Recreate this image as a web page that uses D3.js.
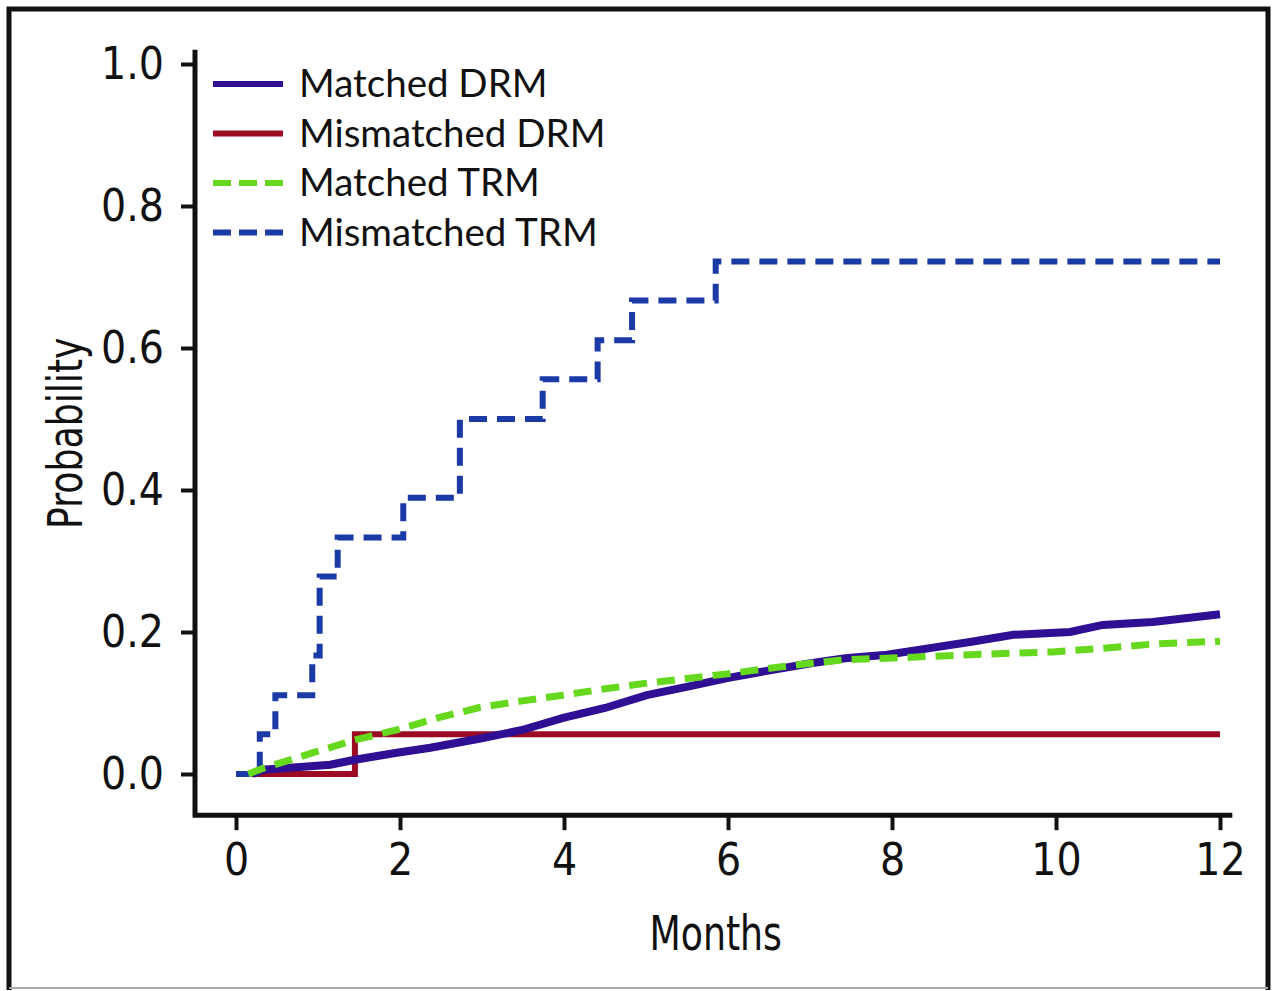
<!DOCTYPE html>
<html>
<head>
<meta charset="utf-8">
<script src="https://cdn.jsdelivr.net/npm/d3@7"></script>
<style>
  body { margin: 0; background: #fff; }
  svg { display: block; }
</style>
</head>
<body>
<div id="chart-container"></div>
<script>
const months = [0, 2, 4, 6, 8, 10, 12];
const probTicks = [0, 0.2, 0.4, 0.6, 0.8, 1.0];

const seriesNames = ['Matched DRM', 'Mismatched DRM', 'Matched TRM', 'Mismatched TRM'];

const matchedDrmT = [0.2, 0.33, 0.7, 1.15, 1.45, 1.96, 2.37, 2.98, 3.49, 3.99, 4.5, 5.01, 5.51, 5.99, 6.51, 7.01, 7.43, 7.94, 8.44, 8.95, 9.48, 10.17, 10.57, 11.18, 12];
const matchedDrmP = [0, 0.006, 0.009, 0.013, 0.02, 0.03, 0.037, 0.05, 0.062, 0.079, 0.093, 0.111, 0.123, 0.135, 0.146, 0.156, 0.163, 0.168, 0.177, 0.186, 0.196, 0.2, 0.21, 0.214, 0.225];

const mismatchedDrmT = [0.2, 1.45, 12];
const mismatchedDrmP = [0, 0.056, 0.056];

const matchedTrmT = [0.15, 0.33, 0.94, 1.45, 1.96, 2.46, 2.98, 3.49, 3.99, 4.5, 5.01, 5.99, 6.51, 7.01, 7.43, 7.94, 8.95, 9.96, 10.57, 11.18, 12];
const matchedTrmP = [0, 0.008, 0.03, 0.048, 0.062, 0.079, 0.094, 0.103, 0.111, 0.12, 0.128, 0.141, 0.149, 0.156, 0.161, 0.163, 0.168, 0.172, 0.177, 0.183, 0.187];

const mismatchedTrmT = [0, 0.29, 0.48, 0.93, 1.02, 1.24, 2.04, 2.73, 3.74, 4.41, 4.83, 5.85, 12];
const mismatchedTrmP = [0, 0.056, 0.111, 0.167, 0.278, 0.333, 0.389, 0.5, 0.556, 0.611, 0.667, 0.722, 0.722];

const width = 1275;
const height = 991;
const narrow = "'Liberation Sans Narrow', 'DejaVu Sans Condensed', sans-serif";

const svg = d3.select('#chart-container').append('svg')
  .attr('width', width).attr('height', height);

// frame
svg.append('path')
  .attr('d', 'M9,990 V9 H1268 V990')
  .attr('fill', 'none').attr('stroke', '#111').attr('stroke-width', 5);
svg.append('line')
  .attr('x1', 9).attr('x2', 1268).attr('y1', 988).attr('y2', 988)
  .attr('stroke', '#aaa').attr('stroke-width', 2);

const x = d3.scaleLinear().domain([0, 12]).range([236, 1220]);
const y = d3.scaleLinear().domain([0, 1]).range([774, 64]);

const xAxisY = y(-0.058);
const yAxisX = x(-0.5);

const xAxis = svg.append('g')
  .attr('transform', `translate(0, ${xAxisY})`)
  .call(d3.axisBottom(x).tickValues(months).tickFormat(d3.format('d')).tickSize(15).tickPadding(14));

const yAxis = svg.append('g')
  .attr('transform', `translate(${yAxisX}, 0)`)
  .call(d3.axisLeft(y).tickValues(probTicks).tickFormat(d3.format('.1f')).tickSize(14).tickPadding(17));

[xAxis, yAxis].forEach(g => {
  g.select('.domain').remove();
  g.selectAll('.tick line').attr('stroke', '#111').attr('stroke-width', 4);
  g.selectAll('.tick text').attr('fill', '#111')
    .style('font-family', narrow).style('font-size', '44px');
});

svg.append('line')
  .attr('x1', yAxisX).attr('x2', yAxisX)
  .attr('y1', y(1.02)).attr('y2', xAxisY + 2)
  .attr('stroke', '#111').attr('stroke-width', 5);
svg.append('line')
  .attr('x1', yAxisX - 2).attr('x2', x(12.15))
  .attr('y1', xAxisY).attr('y2', xAxisY)
  .attr('stroke', '#111').attr('stroke-width', 5);

svg.append('text').text('Months')
  .attr('transform', `translate(${x(5.85)}, 950) scale(0.84, 1)`)
  .attr('text-anchor', 'middle')
  .style('font-family', narrow).style('font-size', '48px').attr('fill', '#111');

svg.append('text').text('Probability')
  .attr('transform', `translate(82, ${y(0.48)}) rotate(-90) scale(0.84, 1)`)
  .attr('text-anchor', 'middle')
  .style('font-family', narrow).style('font-size', '48px').attr('fill', '#111');

const series = [
  { name: seriesNames[0], t: matchedDrmT, p: matchedDrmP, color: '#2f0f94', width: 8, dash: null, curve: d3.curveLinear },
  { name: seriesNames[1], t: mismatchedDrmT, p: mismatchedDrmP, color: '#9c0b24', width: 6, dash: null, curve: d3.curveStepAfter },
  { name: seriesNames[2], t: matchedTrmT, p: matchedTrmP, color: '#66d81e', width: 7, dash: '18,10', curve: d3.curveLinear },
  { name: seriesNames[3], t: mismatchedTrmT, p: mismatchedTrmP, color: '#1a3aa6', width: 6, dash: '18,10', curve: d3.curveStepAfter }
];

const drawOrder = [3, 1, 0, 2];
drawOrder.forEach(i => {
  const s = series[i];
  const pts = s.t.map((t, k) => [t, s.p[k]]);
  const line = d3.line().x(d => x(d[0])).y(d => y(d[1])).curve(s.curve);
  svg.append('path')
    .datum(pts)
    .attr('d', line)
    .attr('fill', 'none')
    .attr('stroke', s.color)
    .attr('stroke-width', s.width)
    .attr('stroke-dasharray', s.dash);
});

const legend = svg.append('g').attr('class', 'legend');
series.forEach((s, i) => {
  const ly = 84 + i * 49.5;
  legend.append('line')
    .attr('x1', 213).attr('x2', 283).attr('y1', ly).attr('y2', ly)
    .attr('stroke', s.color).attr('stroke-width', 6)
    .attr('stroke-dasharray', s.dash ? '18,8' : null);
  legend.append('text').text(s.name)
    .attr('x', 299).attr('y', ly + 13)
    .style('font-family', "Lato, 'Open Sans', sans-serif").style('font-size', '38.5px')
    .attr('fill', '#111');
});
</script>
</body>
</html>
